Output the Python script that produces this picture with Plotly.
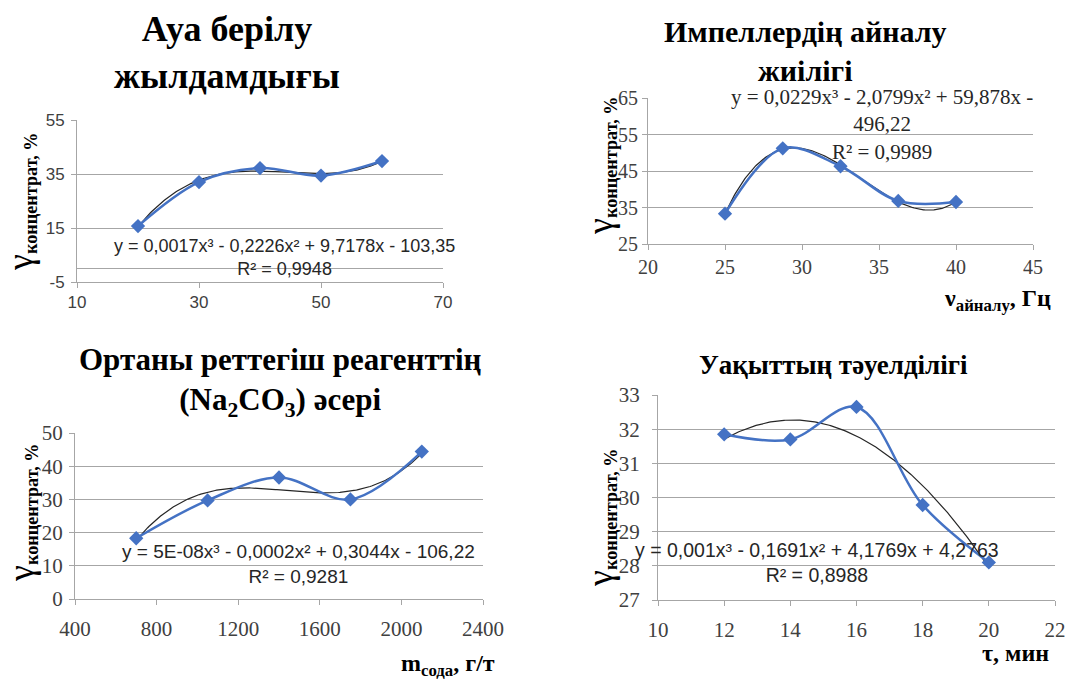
import numpy as np
import plotly.graph_objects as go

# ---------------- data ----------------
air_x = [20, 30, 40, 50, 60]
air_y = [15.7, 32.0, 37.2, 34.4, 39.8]

imp_x = [25, 28.75, 32.5, 36.25, 40]
imp_y = [33.3, 51.2, 46.3, 36.8, 36.5]

soda_x = [700, 1050, 1400, 1750, 2100]
soda_y = [18.3, 29.7, 36.6, 30.0, 44.4]

time_x = [12, 14, 16, 18, 20]
time_y = [31.85, 31.7, 32.65, 29.78, 28.1]

air_yticks = [-5, 15, 35, 55]
air_yticklabels = ["-5", "15", "35", "55"]

titles = ["Ауа берілу<br>жылдамдығы",
          "Импеллердің айналу<br>жиілігі",
          "Ортаны реттегіш реагенттің<br>(Na<sub>2</sub>CO<sub>3</sub>) әсері",
          "Уақыттың тәуелділігі"]
equations = [
    "y = 0,0017x³ - 0,2226x² + 9,7178x - 103,35<br>R² = 0,9948",
    "y = 0,0229x³ - 2,0799x² + 59,878x -<br>496,22<br>R² = 0,9989",
    "y = 5E-08x³ - 0,0002x² + 0,3044x - 106,22<br>R² = 0,9281",
    "y = 0,001x³ - 0,1691x² + 4,1769x + 4,2763<br>R² = 0,8988",
]

SERIF = "Liberation Serif"
SANS = "Liberation Sans"
BLUE = "#4472C4"
GRID = "#A6A6A6"
W, H = 1089, 684


def px_x(p):
    return p / W


def px_y(p):
    return 1 - p / H


panels = [
    dict(x=air_x, y=air_y, xr=[10, 70], xd=20, yr=[-5, 55], yd=20, xso=0, yso=3,
         dom=(77, 443, 120, 282), tickfont=dict(family=SANS, size=17, color="#404040")),
    dict(x=imp_x, y=imp_y, xr=[20, 45], xd=5, yr=[25, 65], yd=10, xso=0, yso=0,
         dom=(648, 1033, 98, 244), tickfont=dict(family=SERIF, size=20, color="#404040")),
    dict(x=soda_x, y=soda_y, xr=[400, 2400], xd=400, yr=[0, 50], yd=10, xso=6, yso=2,
         dom=(75, 483, 433, 599), tickfont=dict(family=SERIF, size=21, color="#404040")),
    dict(x=time_x, y=time_y, xr=[10, 22], xd=2, yr=[27, 33], yd=1, xso=6, yso=8,
         dom=(658, 1055, 395, 600), tickfont=dict(family=SERIF, size=21, color="#404040")),
]

fig = go.Figure()
layout = dict(width=W, height=H, margin=dict(l=0, r=0, t=0, b=0, autoexpand=False),
              template="none",
              paper_bgcolor="white", plot_bgcolor="white", showlegend=False)

for i, p in enumerate(panels, start=1):
    sfx = "" if i == 1 else str(i)
    xa, ya = "x" + sfx, "y" + sfx
    # polynomial (3rd order) trendline fitted to the data, like Excel
    coef = np.polyfit(p["x"], p["y"], 3)
    xs = np.linspace(min(p["x"]), max(p["x"]), 200)
    fig.add_trace(go.Scatter(x=xs, y=np.polyval(coef, xs), mode="lines",
                             line=dict(color="#262626", width=1.2),
                             xaxis=xa, yaxis=ya, hoverinfo="skip"))
    fig.add_trace(go.Scatter(x=p["x"], y=p["y"], mode="lines+markers",
                             line=dict(color=BLUE, width=2.5, shape="spline", smoothing=1.0),
                             marker=dict(symbol="diamond", size=11, color=BLUE),
                             xaxis=xa, yaxis=ya))
    x0, x1, y0, y1 = p["dom"]
    layout["xaxis" + sfx] = dict(
        domain=[px_x(x0), px_x(x1)], range=p["xr"], dtick=p["xd"], tick0=p["xr"][0],
        showgrid=False, zeroline=False, showline=True, linecolor=GRID, linewidth=1,
        ticks="outside", ticklen=5, tickcolor=GRID, tickfont=p["tickfont"],
        ticklabelstandoff=p["xso"],
        anchor=ya, fixedrange=True, automargin=False)
    layout["yaxis" + sfx] = dict(
        domain=[px_y(y1), px_y(y0)], range=p["yr"], dtick=p["yd"], tick0=p["yr"][0],
        showgrid=True, gridcolor=GRID, gridwidth=1, zeroline=False,
        showline=True, linecolor=GRID, linewidth=1,
        ticks="outside", ticklen=5, tickcolor=GRID, tickfont=p["tickfont"],
        ticklabelstandoff=p["yso"],
        anchor=xa, fixedrange=True, automargin=False)

layout["yaxis"].update(tickmode="array", tickvals=air_yticks, ticktext=air_yticklabels)

ann = []
# titles
title_pos = [(227, 53, 36), (805, 51, 30), (280, 382, 31), (833, 365, 27)]
for t, (cx, cy, fs) in zip(titles, title_pos):
    ann.append(dict(text="<b>" + t + "</b>", x=px_x(cx), y=px_y(cy), xref="paper", yref="paper",
                    showarrow=False, xanchor="center", yanchor="middle",
                    font=dict(family=SERIF, size=fs, color="black")))

# equations
eq_pos = [(284, 257, SANS, 18), (882, 125, SERIF, 21), (298, 564, SANS, 19), (817, 562, SANS, 19.5)]
for t, (cx, cy, fam, fs) in zip(equations, eq_pos):
    ann.append(dict(text=t, x=px_x(cx), y=px_y(cy), xref="paper", yref="paper",
                    showarrow=False, xanchor="center", yanchor="middle",
                    font=dict(family=fam, size=fs, color="#262626")))

# y-axis titles
ytitle = "<span style='font-size:36px'>γ</span><sub><b>концентрат, %</b></sub>"
for cx, cy in [(21, 202), (600, 166), (21, 513), (600, 518)]:
    ann.append(dict(text=ytitle, x=px_x(cx), y=px_y(cy), xref="paper", yref="paper",
                    showarrow=False, textangle=-90, xanchor="center", yanchor="middle",
                    font=dict(family=SERIF, size=26, color="black")))

# x-axis titles
xtitles = [("<b>ν<sub>айналу</sub>, Гц</b>", 997, 300),
           ("<b>m<sub>сода</sub>, г/т</b>", 448, 665),
           ("<b>τ, мин</b>", 1015, 653)]
for t, cx, cy in xtitles:
    ann.append(dict(text=t, x=px_x(cx), y=px_y(cy), xref="paper", yref="paper",
                    showarrow=False, xanchor="center", yanchor="middle",
                    font=dict(family=SERIF, size=24, color="black")))

layout["annotations"] = ann
# horizontal axis of panel 1 crosses at y = 0
layout["shapes"] = [dict(type="line", xref="x domain", yref="y", x0=0, x1=1, y0=0, y1=0,
                         line=dict(color=GRID, width=1))]
fig.update_layout(**layout)
fig.write_html("out.html", config={"displayModeBar": False},
               post_script="document.body.style.margin='0px';")
